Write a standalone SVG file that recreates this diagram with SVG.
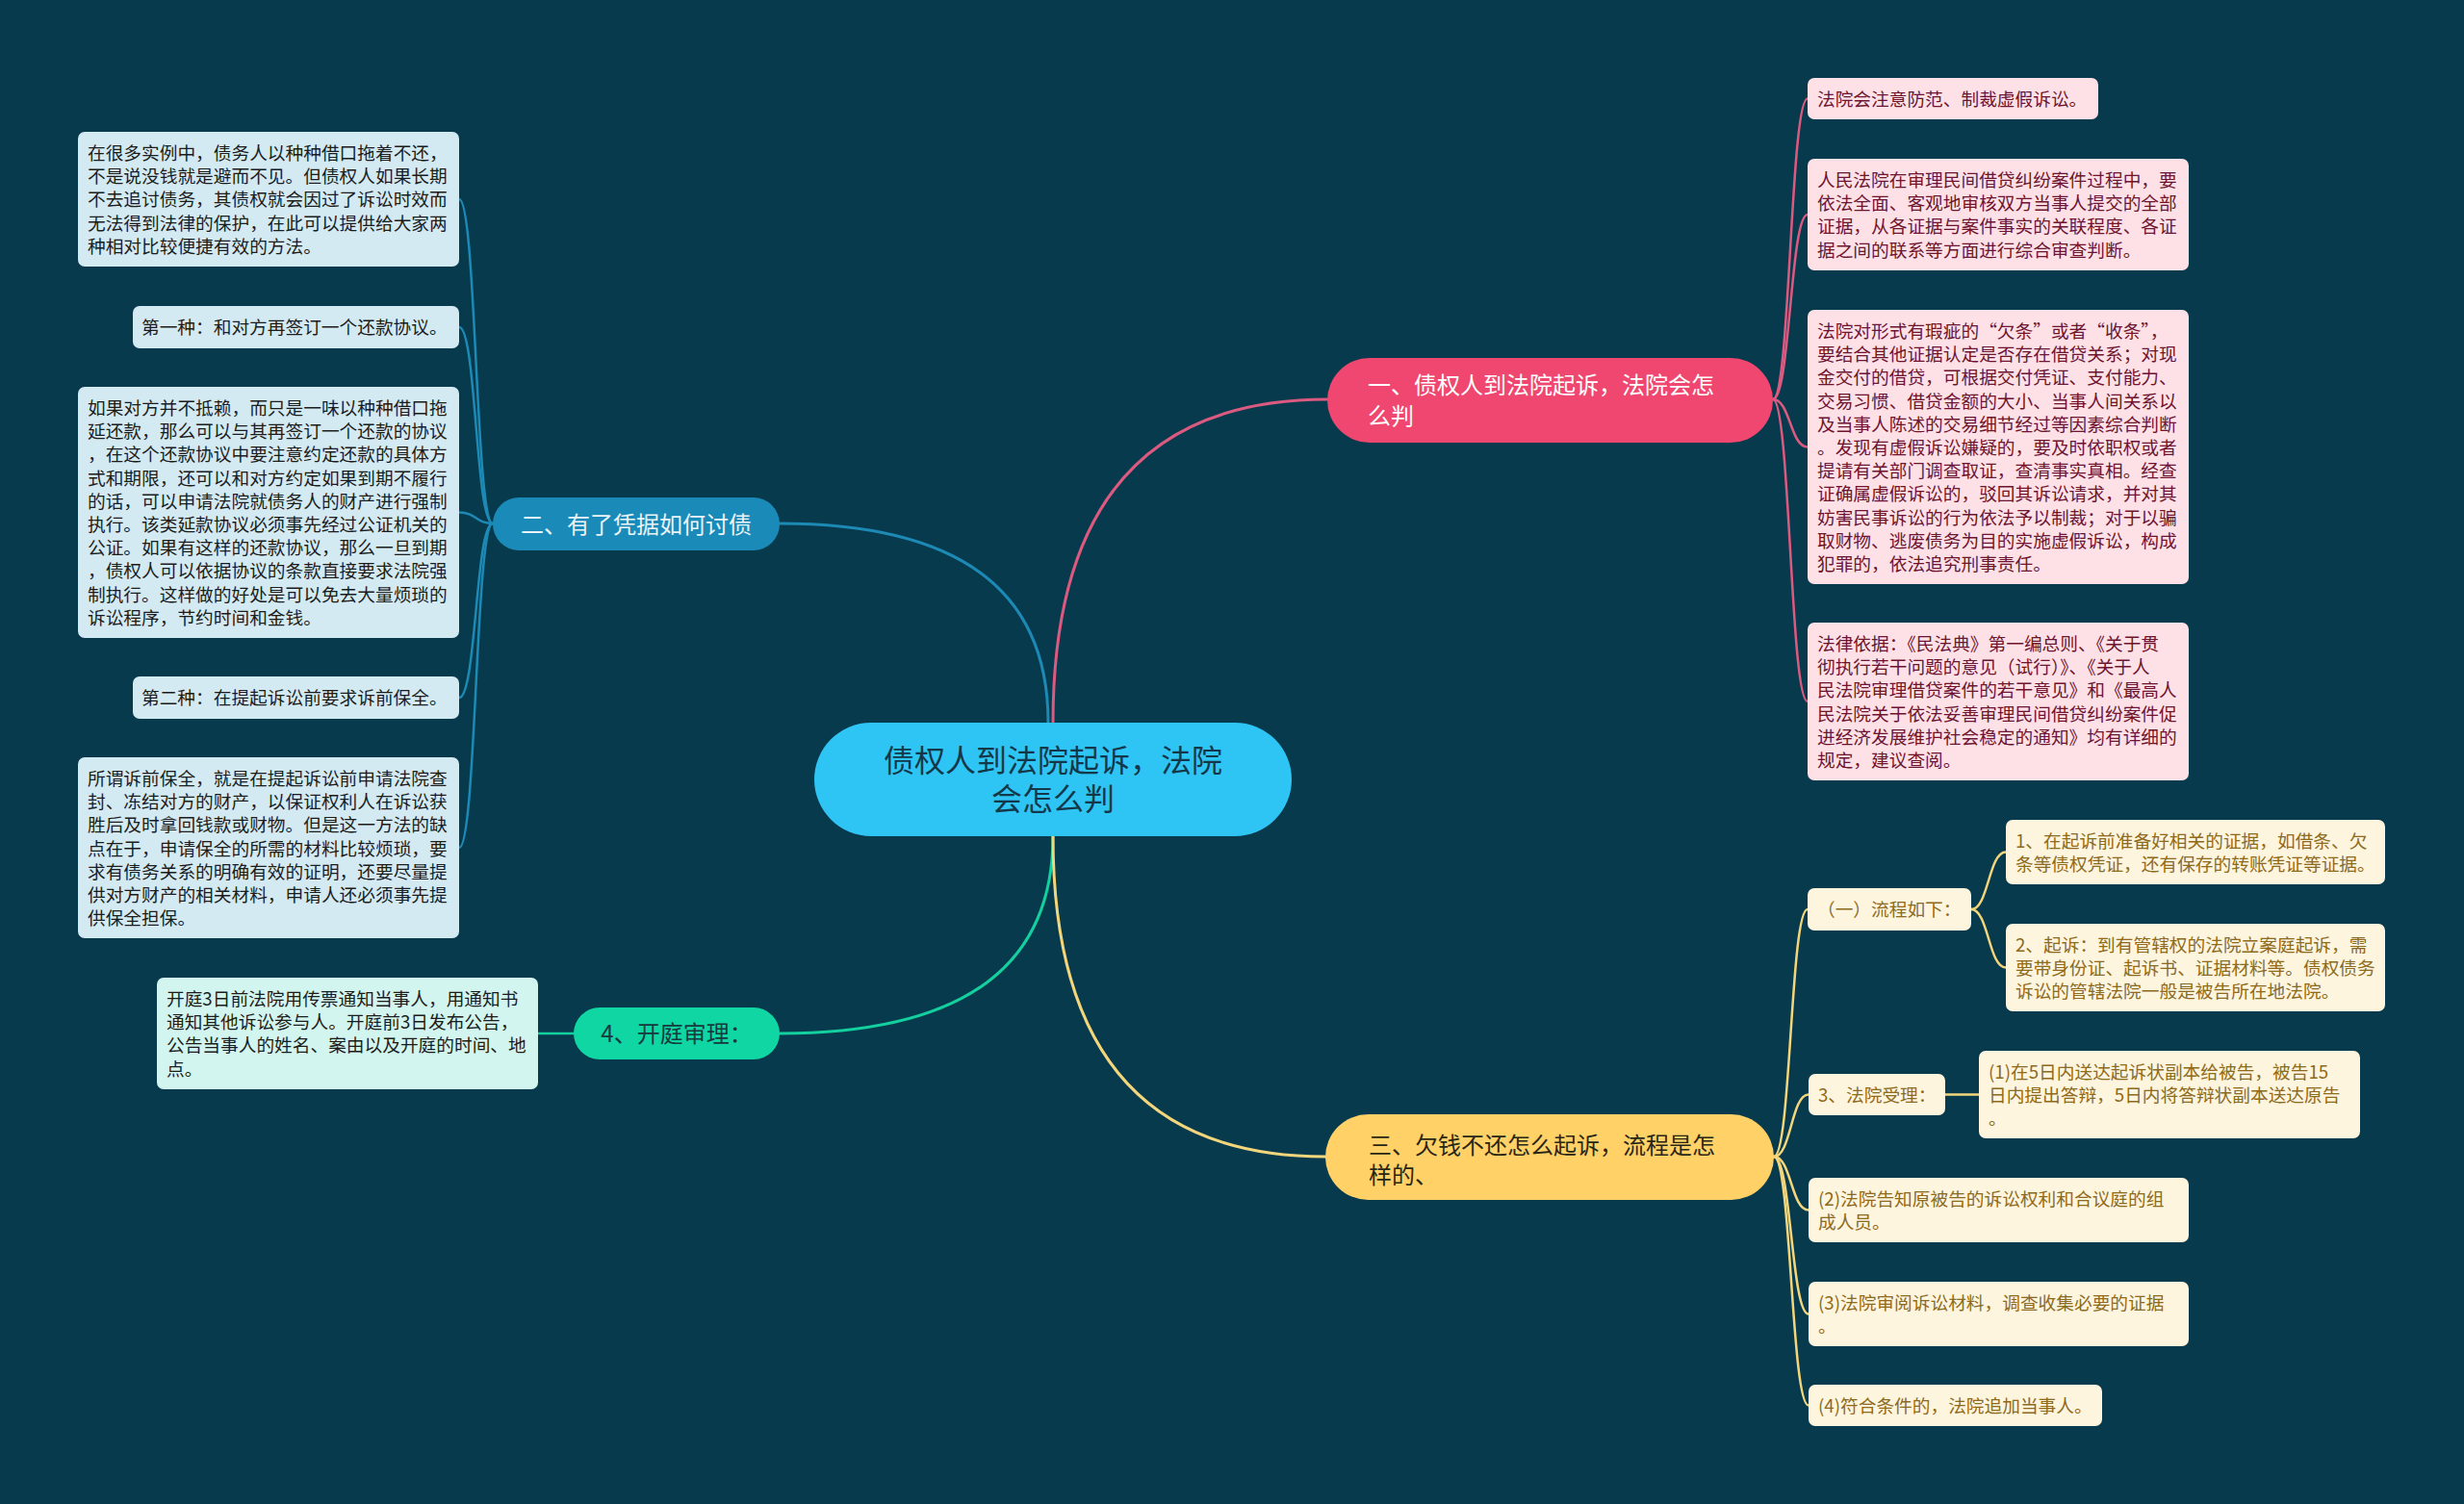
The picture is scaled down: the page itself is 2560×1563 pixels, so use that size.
<svg xmlns="http://www.w3.org/2000/svg" width="2560" height="1563" viewBox="0 0 2560 1563">
<style>
text{font-family:"Noto Sans CJK SC","Noto Sans",sans-serif}
.lt{font-size:18.7px}
.bt{font-size:24px}
.ct{font-size:32px;fill:#14384a}
.lb rect{fill:#d3eaf3}
.lb text{fill:#1c1c1c}
.lm rect{fill:#d2f6ef}
.lm text{fill:#1c1c1c}
.lp rect{fill:#fde1e7}
.lp text{fill:#6e1430}
.ly rect{fill:#fdf5dd}
.ly text{fill:#8e6a1c}
.c{fill:none;stroke-linecap:round}
.cb{stroke:#1d8ab5}
.cp{stroke:#dc5a80}
.cg{stroke:#14cf9e}
.cy{stroke:#f3d67c}
.w3{stroke-width:3}
.w2{stroke-width:2.5}
</style>
<rect width="2560" height="1563" fill="#083a4e"/>
<g id="connectors">
<path class="c cp w3" d="M1094,751 Q1094,415 1379,415"/>
<path class="c cb w3" d="M1089,751 Q1089,544 810,544"/>
<path class="c cg w3" d="M1094,869 Q1094,1074 810,1074"/>
<path class="c cy w3" d="M1094,869 Q1094,1202 1377,1202"/>
<path class="c cb w2" d="M512,544 C494,544 495,207 477,207"/>
<path class="c cb w2" d="M512,544 C494,544 495,340 477,340"/>
<path class="c cb w2" d="M512,544 C494,544 495,532.5 477,532.5"/>
<path class="c cb w2" d="M512,544 C494,544 495,725 477,725"/>
<path class="c cb w2" d="M512,544 C494,544 495,881 477,881"/>
<path class="c cg w2" d="M596,1074 L559,1074"/>
<path class="c cp w2" d="M1842,415 C1860,415 1860,102.5 1878,102.5"/>
<path class="c cp w2" d="M1842,415 C1860,415 1860,223 1878,223"/>
<path class="c cp w2" d="M1842,415 C1860,415 1860,464.5 1878,464.5"/>
<path class="c cp w2" d="M1842,415 C1860,415 1860,729 1878,729"/>
<path class="c cy w2" d="M1843,1202 C1861,1202 1860,945 1878,945"/>
<path class="c cy w2" d="M1843,1202 C1861,1202 1861,1137.5 1879,1137.5"/>
<path class="c cy w2" d="M1843,1202 C1861,1202 1861,1257.5 1879,1257.5"/>
<path class="c cy w2" d="M1843,1202 C1861,1202 1861,1365.5 1879,1365.5"/>
<path class="c cy w2" d="M1843,1202 C1861,1202 1861,1460.5 1879,1460.5"/>
<path class="c cy w2" d="M2048,945 C2066,945 2066,885.5 2084,885.5"/>
<path class="c cy w2" d="M2048,945 C2066,945 2066,1005.5 2084,1005.5"/>
<path class="c cy w2" d="M2021,1137.5 L2056,1137.5"/>
</g>
<g id="center">
<rect x="846" y="751" width="496" height="118" rx="59" fill="#2ec5f4"/>
<text class="ct" text-anchor="middle"><tspan x="1094" y="802">债权人到法院起诉，法院</tspan><tspan x="1094" y="842">会怎么判</tspan></text>
</g>
<g id="branch1">
<rect x="1379" y="372" width="463" height="88" rx="44" fill="#ef476f"/>
<text class="bt" fill="#ffffff"><tspan x="1421" y="409">一、债权人到法院起诉，法院会怎</tspan><tspan x="1421" y="441">么判</tspan></text>
</g>
<g id="branch2">
<rect x="512" y="517" width="298" height="55" rx="27.5" fill="#1a8bb8"/>
<text class="bt" fill="#eaf3f7" text-anchor="middle" x="661" y="553.5">二、有了凭据如何讨债</text>
</g>
<g id="branch3">
<rect x="1377" y="1158" width="466" height="89" rx="44.5" fill="#ffd166"/>
<text class="bt" fill="#2a2616"><tspan x="1422" y="1199">三、欠钱不还怎么起诉，流程是怎</tspan><tspan x="1422" y="1230">样的、</tspan></text>
</g>
<g id="branch4">
<rect x="596" y="1047" width="214" height="54" rx="27" fill="#0fd6a2"/>
<text class="bt" fill="#173a3e" text-anchor="middle" x="703" y="1083">4、开庭审理：</text>
</g>
<g id="leaf-l1" class="lb">
<rect x="81" y="137" width="396" height="140" rx="7"/>
<text class="lt"><tspan x="91" y="166">在很多实例中，债务人以种种借口拖着不还，</tspan><tspan x="91" dy="24.2">不是说没钱就是避而不见。但债权人如果长期</tspan><tspan x="91" dy="24.2">不去追讨债务，其债权就会因过了诉讼时效而</tspan><tspan x="91" dy="24.2">无法得到法律的保护，在此可以提供给大家两</tspan><tspan x="91" dy="24.2">种相对比较便捷有效的方法。</tspan></text>
</g>
<g id="leaf-l2" class="lb">
<rect x="138" y="318" width="339" height="44" rx="7"/>
<text class="lt" x="147" y="347">第一种：和对方再签订一个还款协议。</text>
</g>
<g id="leaf-l3" class="lb">
<rect x="81" y="402" width="396" height="261" rx="7"/>
<text class="lt"><tspan x="91" y="431">如果对方并不抵赖，而只是一味以种种借口拖</tspan><tspan x="91" dy="24.2">延还款，那么可以与其再签订一个还款的协议</tspan><tspan x="91" dy="24.2">，在这个还款协议中要注意约定还款的具体方</tspan><tspan x="91" dy="24.2">式和期限，还可以和对方约定如果到期不履行</tspan><tspan x="91" dy="24.2">的话，可以申请法院就债务人的财产进行强制</tspan><tspan x="91" dy="24.2">执行。该类延款协议必须事先经过公证机关的</tspan><tspan x="91" dy="24.2">公证。如果有这样的还款协议，那么一旦到期</tspan><tspan x="91" dy="24.2">，债权人可以依据协议的条款直接要求法院强</tspan><tspan x="91" dy="24.2">制执行。这样做的好处是可以免去大量烦琐的</tspan><tspan x="91" dy="24.2">诉讼程序，节约时间和金钱。</tspan></text>
</g>
<g id="leaf-l4" class="lb">
<rect x="138" y="703" width="339" height="44" rx="7"/>
<text class="lt" x="147" y="732">第二种：在提起诉讼前要求诉前保全。</text>
</g>
<g id="leaf-l5" class="lb">
<rect x="81" y="787" width="396" height="188" rx="7"/>
<text class="lt"><tspan x="91" y="816">所谓诉前保全，就是在提起诉讼前申请法院查</tspan><tspan x="91" dy="24.2">封、冻结对方的财产，以保证权利人在诉讼获</tspan><tspan x="91" dy="24.2">胜后及时拿回钱款或财物。但是这一方法的缺</tspan><tspan x="91" dy="24.2">点在于，申请保全的所需的材料比较烦琐，要</tspan><tspan x="91" dy="24.2">求有债务关系的明确有效的证明，还要尽量提</tspan><tspan x="91" dy="24.2">供对方财产的相关材料，申请人还必须事先提</tspan><tspan x="91" dy="24.2">供保全担保。</tspan></text>
</g>
<g id="leaf-l6" class="lm">
<rect x="163" y="1016" width="396" height="116" rx="7"/>
<text class="lt"><tspan x="173" y="1045">开庭3日前法院用传票通知当事人，用通知书</tspan><tspan x="173" dy="24.2">通知其他诉讼参与人。开庭前3日发布公告，</tspan><tspan x="173" dy="24.2">公告当事人的姓名、案由以及开庭的时间、地</tspan><tspan x="173" dy="24.2">点。</tspan></text>
</g>
<g id="leaf-r1" class="lp">
<rect x="1878" y="81" width="302" height="43" rx="7"/>
<text class="lt" x="1888" y="109.5">法院会注意防范、制裁虚假诉讼。</text>
</g>
<g id="leaf-r2" class="lp">
<rect x="1878" y="165" width="396" height="116" rx="7"/>
<text class="lt"><tspan x="1888" y="194">人民法院在审理民间借贷纠纷案件过程中，要</tspan><tspan x="1888" dy="24.2">依法全面、客观地审核双方当事人提交的全部</tspan><tspan x="1888" dy="24.2">证据，从各证据与案件事实的关联程度、各证</tspan><tspan x="1888" dy="24.2">据之间的联系等方面进行综合审查判断。</tspan></text>
</g>
<g id="leaf-r3" class="lp">
<rect x="1878" y="322" width="396" height="285" rx="7"/>
<text class="lt"><tspan x="1888" y="351">法院对形式有瑕疵的“欠条”或者“收条”，</tspan><tspan x="1888" dy="24.2">要结合其他证据认定是否存在借贷关系；对现</tspan><tspan x="1888" dy="24.2">金交付的借贷，可根据交付凭证、支付能力、</tspan><tspan x="1888" dy="24.2">交易习惯、借贷金额的大小、当事人间关系以</tspan><tspan x="1888" dy="24.2">及当事人陈述的交易细节经过等因素综合判断</tspan><tspan x="1888" dy="24.2">。发现有虚假诉讼嫌疑的，要及时依职权或者</tspan><tspan x="1888" dy="24.2">提请有关部门调查取证，查清事实真相。经查</tspan><tspan x="1888" dy="24.2">证确属虚假诉讼的，驳回其诉讼请求，并对其</tspan><tspan x="1888" dy="24.2">妨害民事诉讼的行为依法予以制裁；对于以骗</tspan><tspan x="1888" dy="24.2">取财物、逃废债务为目的实施虚假诉讼，构成</tspan><tspan x="1888" dy="24.2">犯罪的，依法追究刑事责任。</tspan></text>
</g>
<g id="leaf-r4" class="lp">
<rect x="1878" y="647" width="396" height="164" rx="7"/>
<text class="lt"><tspan x="1888" y="676">法律依据：《民法典》第一编总则、《关于贯</tspan><tspan x="1888" dy="24.2">彻执行若干问题的意见（试行）》、《关于人</tspan><tspan x="1888" dy="24.2">民法院审理借贷案件的若干意见》和《最高人</tspan><tspan x="1888" dy="24.2">民法院关于依法妥善审理民间借贷纠纷案件促</tspan><tspan x="1888" dy="24.2">进经济发展维护社会稳定的通知》均有详细的</tspan><tspan x="1888" dy="24.2">规定，建议查阅。</tspan></text>
</g>
<g id="leaf-y1" class="ly">
<rect x="1878" y="923" width="170" height="44" rx="7"/>
<text class="lt" x="1888" y="952">（一）流程如下：</text>
</g>
<g id="leaf-y1a" class="ly">
<rect x="2084" y="852" width="394" height="67" rx="7"/>
<text class="lt"><tspan x="2094" y="881">1、在起诉前准备好相关的证据，如借条、欠</tspan><tspan x="2094" dy="24.2">条等债权凭证，还有保存的转账凭证等证据。</tspan></text>
</g>
<g id="leaf-y1b" class="ly">
<rect x="2084" y="960" width="394" height="91" rx="7"/>
<text class="lt"><tspan x="2094" y="989">2、起诉：到有管辖权的法院立案庭起诉，需</tspan><tspan x="2094" dy="24.2">要带身份证、起诉书、证据材料等。债权债务</tspan><tspan x="2094" dy="24.2">诉讼的管辖法院一般是被告所在地法院。</tspan></text>
</g>
<g id="leaf-y2" class="ly">
<rect x="1879" y="1116" width="142" height="43" rx="7"/>
<text class="lt" x="1889" y="1144.5">3、法院受理：</text>
</g>
<g id="leaf-y2a" class="ly">
<rect x="2056" y="1092" width="396" height="91" rx="7"/>
<text class="lt"><tspan x="2066" y="1121">(1)在5日内送达起诉状副本给被告，被告15</tspan><tspan x="2066" dy="24.2">日内提出答辩，5日内将答辩状副本送达原告</tspan><tspan x="2066" dy="24.2">。</tspan></text>
</g>
<g id="leaf-y3" class="ly">
<rect x="1879" y="1224" width="395" height="67" rx="7"/>
<text class="lt"><tspan x="1889" y="1253">(2)法院告知原被告的诉讼权利和合议庭的组</tspan><tspan x="1889" dy="24.2">成人员。</tspan></text>
</g>
<g id="leaf-y4" class="ly">
<rect x="1879" y="1332" width="395" height="67" rx="7"/>
<text class="lt"><tspan x="1889" y="1361">(3)法院审阅诉讼材料，调查收集必要的证据</tspan><tspan x="1889" dy="24.2">。</tspan></text>
</g>
<g id="leaf-y5" class="ly">
<rect x="1879" y="1439" width="305" height="43" rx="7"/>
<text class="lt" x="1889" y="1467.5">(4)符合条件的，法院追加当事人。</text>
</g>
</svg>
